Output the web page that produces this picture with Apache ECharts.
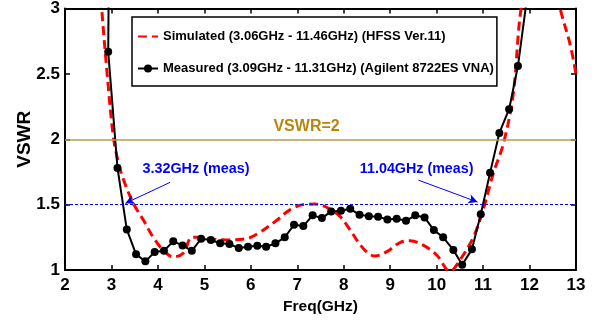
<!DOCTYPE html>
<html><head><meta charset="utf-8">
<script src="https://cdn.jsdelivr.net/npm/echarts@6/dist/echarts.min.js"></script>
<style>html,body{margin:0;padding:0;background:#fff}#c{width:600px;height:320px}</style>
</head><body><div id="c"></div>
<script>
const FONT = '"Liberation Sans",Arial,sans-serif';
const xTicks = [2,3,4,5,6,7,8,9,10,11,12,13];
const yTicks = [1,1.5,2,2.5,3];
const simName = 'Simulated (3.06GHz - 11.46GHz) (HFSS Ver.11)';
const measName = 'Measured (3.09GHz - 11.31GHz) (Agilent 8722ES VNA)';
const simF = [2.72,2.79,2.92,3.04,3.15,3.26,3.47,3.69,3.9,4.12,4.33,4.55,4.73,4.9,5.05,5.48,5.91,6.16,6.56,6.84,7.13,7.38,7.63,7.92,8.14,8.42,8.67,8.93,9.21,9.43,9.71,10.0,10.29,10.5,10.79,11.0,11.22,11.44,11.65,11.81,12.2,12.66,12.87,13.0];
const simV = [3.4,3.0,2.45,2.02,1.82,1.69,1.51,1.38,1.25,1.15,1.10,1.13,1.25,1.25,1.24,1.23,1.24,1.28,1.38,1.46,1.50,1.504,1.48,1.41,1.305,1.165,1.107,1.14,1.21,1.224,1.19,1.115,0.99,1.076,1.25,1.46,1.74,1.97,2.35,2.98,3.8,3.0,2.73,2.5];
const measF = [2.95,2.93,3.13,3.33,3.53,3.73,3.93,4.13,4.33,4.53,4.73,4.93,5.14,5.34,5.54,5.74,5.94,6.14,6.33,6.53,6.73,6.93,7.13,7.33,7.53,7.73,7.94,8.14,8.34,8.54,8.74,8.94,9.14,9.34,9.54,9.74,9.94,10.14,10.36,10.55,10.76,10.95,11.15,11.35,11.56,11.75,11.96];
const measV = [3.6,2.67,1.78,1.31,1.12,1.066,1.137,1.147,1.219,1.188,1.147,1.239,1.229,1.204,1.198,1.168,1.178,1.185,1.178,1.204,1.25,1.346,1.336,1.418,1.397,1.448,1.453,1.468,1.422,1.412,1.407,1.387,1.392,1.376,1.418,1.402,1.305,1.25,1.153,1.04,1.158,1.427,1.743,2.048,2.23,2.56,3.12];
const refLevel = 2, refLabel = 'VSWR=2';
const bwLevel = 1.5;
const ann1 = {text:'3.32GHz (meas)', at:[4.82,1.775], from:[4.26,1.67], to:[3.30,1.51]};
const ann2 = {text:'11.04GHz (meas)', at:[9.57,1.775], from:[9.61,1.687], to:[10.88,1.52]};
const refLabelAt = [7.2,2.095];

const chart = echarts.init(document.getElementById('c'), null, {renderer:'canvas'});
const axisCommon = {axisLine:{show:true,lineStyle:{color:'#000',width:2}}, axisTick:{show:true,inside:true,length:5,lineStyle:{color:'#000',width:1.5}}, splitLine:{show:false}};
const lblStyle = {color:'#000',fontFamily:FONT,fontWeight:'bold',fontSize:17};
chart.setOption({
  animation:false,
  backgroundColor:'#fff',
  grid:{left:65,right:24,top:8,bottom:50},
  legend:{
    left:132, top:17, orient:'vertical', backgroundColor:'#fff', borderColor:'#000', borderWidth:1.5,
    padding:[13,3,11,5], itemGap:19, itemWidth:20, itemHeight:10,
    textStyle:{fontFamily:FONT,fontWeight:'bold',fontSize:13,color:'#000'},
    data:[{name:simName, itemStyle:{opacity:0}}, measName]
  },
  xAxis:[
    Object.assign({type:'value',min:2,max:13,interval:1,position:'bottom',name:'Freq(GHz)',nameLocation:'middle',nameGap:25,nameTextStyle:Object.assign({},lblStyle,{fontSize:15.5}),
      axisLabel:Object.assign({margin:7,formatter:v=>xTicks.includes(v)?String(v):''},lblStyle)}, axisCommon),
    Object.assign({type:'value',min:2,max:13,interval:1,position:'top',axisLabel:{show:false}}, axisCommon)
  ],
  yAxis:[
    Object.assign({type:'value',min:1,max:3,interval:0.5,position:'left',name:'VSWR',nameLocation:'middle',nameGap:31,nameMoveOverlap:false,nameRotate:90,nameTextStyle:Object.assign({},lblStyle,{fontSize:19}),
      axisLabel:Object.assign({margin:5,formatter:v=>yTicks.includes(v)?String(v):''},lblStyle)}, axisCommon),
    Object.assign({type:'value',min:1,max:3,interval:0.5,position:'right',axisLabel:{show:false}}, axisCommon)
  ],
  series:[
    {
      name:'guides', type:'line', data:[], silent:true,
      markLine:{silent:true, symbol:['none','none'], label:{show:false}, animation:false,
        data:[
          {yAxis:refLevel, lineStyle:{color:'#b89a50',width:1.5,type:'solid'}},
          {yAxis:bwLevel, lineStyle:{color:'#0000ff',width:1,type:[3,2]}}
        ]},
      markPoint:{silent:true, symbol:'circle', symbolSize:0,
        data:[
          {coord:refLabelAt, label:{show:true,formatter:refLabel,color:'#b8860b',fontFamily:FONT,fontWeight:'bold',fontSize:16}},
          {coord:ann1.at, label:{show:true,formatter:ann1.text,color:'#0000ff',fontFamily:FONT,fontWeight:'bold',fontSize:14.4}},
          {coord:ann2.at, label:{show:true,formatter:ann2.text,color:'#0000ff',fontFamily:FONT,fontWeight:'bold',fontSize:14.3}}
        ]}
    },
    {
      name:'arrows', type:'line', data:[], silent:true,
      markLine:{silent:true, symbol:['none','arrow'], symbolSize:[7,9], label:{show:false},
        lineStyle:{color:'#0000ff',width:1,type:'solid'},
        data:[
          [{coord:ann1.from},{coord:ann1.to}],
          [{coord:ann2.from},{coord:ann2.to}]
        ]}
    },
    {
      name:simName, type:'line', smooth:0.35, showSymbol:false, symbol:'none',
      data:simF.map((f,i)=>[f,simV[i]]),
      lineStyle:{color:'#ff0000',width:3,type:[9,5]}, itemStyle:{color:'#ff0000'}, z:3
    },
    {
      name:measName, type:'line', smooth:false, symbol:'circle', symbolSize:8, showAllSymbol:true,
      data:measF.map((f,i)=>[f,measV[i]]),
      lineStyle:{color:'#000',width:2}, itemStyle:{color:'#000'}, z:4
    }
  ]
});
</script></body></html>
